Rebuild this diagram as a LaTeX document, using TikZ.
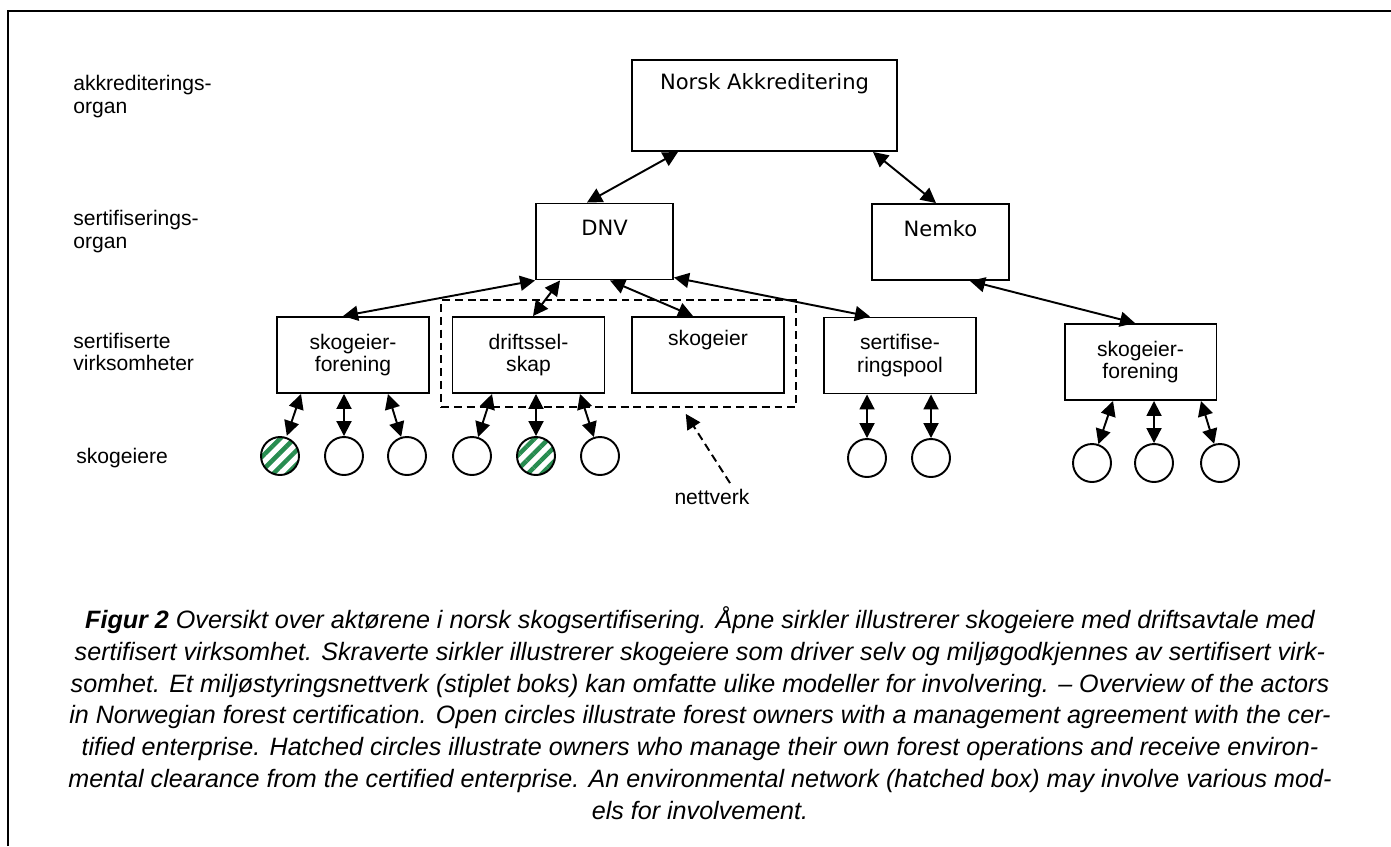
\documentclass[tikz,border=0pt]{standalone}
\usepackage{fontspec}
\setmainfont{Liberation Sans}
\newfontfamily\orgfont{DejaVu Sans}
\usetikzlibrary{arrows.meta,positioning,patterns.meta}
\definecolor{hatchgreen}{RGB}{40,140,80}

\tikzset{
  orgbox/.style={draw, line width=1.1pt, minimum width=3.04cm, minimum height=1.52cm, align=center, inner sep=0pt},
  topbox/.style={orgbox, minimum width=2.74cm},
  orgname/.style={font=\orgfont\fontsize{12}{13}\selectfont},
  owner/.style={circle, draw, line width=1.1pt, minimum size=0.76cm, inner sep=0pt},
  hatched/.style={owner, pattern={Lines[angle=45,distance=0.2cm,line width=0.09cm]}, pattern color=hatchgreen},
  link/.style={line width=1.1pt, {Triangle[length=0.3cm,width=0.3cm]}-{Triangle[length=0.3cm,width=0.3cm]}},
  level/.style={anchor=west, inner sep=0pt, align=left}
}

\begin{document}
\begin{tikzpicture}[x=0.02cm, y=-0.02cm, font=\fontsize{12}{13}\selectfont]
          \useasboundingbox (0,0) rectangle (1391,846);
          \draw[line width=1.6pt] (8,846) -- (8,11) -- (1391,11);

          % levels at the left
          \node[level] (lakk) at (73,96.5) {akkrediterings-\\organ};
          \node[level] (lsert) at (73,231.5) {sertifiserings-\\organ};
          \node[level] (lvirk) at (73,352) {sertifiserte\\virksomheter};
          \node[level] (leier) at (76,458) {skogeiere};

          % organs
          \node[orgbox, minimum width=5.3cm, minimum height=1.82cm] (na) at (764.5,105.5) {};
          \node[orgname] at ([yshift=-0.5cm]na.north) {Norsk Akkreditering};
          \node[topbox] (dnv) at (604.5,241.5) {};
          \node[orgname] at ([yshift=-0.5cm]dnv.north) {DNV};
          \node[topbox] (nemko) at (940.5,242) {};
          \node[orgname] at ([yshift=-0.52cm]nemko.north) {Nemko};

          % certified enterprises
          \node[orgbox] (sf1) at (353,355) {skogeier-\\forening};
          \node[orgbox] (drift) at (528.5,355) {driftssel-\\skap};
          \node[orgbox] (skog) at (708,355) {};
          \node at ([yshift=-0.48cm]skog.north) {skogeier};
          \node[orgbox] (pool) at (900,355.5) {sertifise-\\ringspool};
          \node[orgbox] (sf2) at (1140.5,362) {skogeier-\\forening};

          \node[draw, line width=1.1pt, dash pattern=on 4.5pt off 2.8pt, minimum width=7.1cm, minimum height=2.14cm] (net) at (618.5,353.5) {};% network
          \node (nett) at (712,497) {nettverk};

          % owners
          \node[hatched] (c1) at (280,456) {};
          \node[owner] (c2) at (344,456) {};
          \node[owner] (c3) at (407,456) {};
          \node[owner] (c4) at (472,456) {};
          \node[hatched] (c5) at (536,456) {};
          \node[owner] (c6) at (600,456) {};
          \node[owner] (c7) at (867,458) {};
          \node[owner] (c8) at (931,458) {};
          \node[owner] (c9) at (1092,463) {};
          \node[owner] (c10) at (1154,463) {};
          \node[owner] (c11) at (1220,463) {};

          \draw[link] ([xshift=-1.73cm]na.south) -- ([xshift=-0.35cm]dnv.north);
          \draw[link] ([xshift=2.17cm]na.south) -- ([xshift=-0.09cm]nemko.north);
          \draw[link] (dnv.south west) -- ([xshift=-0.2cm]sf1.north);
          \draw[link] ([xshift=-0.89cm]dnv.south) -- ([xshift=0.09cm]drift.north);
          \draw[link] ([xshift=0.11cm]dnv.south) -- ([xshift=-0.3cm]skog.north);
          \draw[link] ([yshift=0.06cm]dnv.south east) -- ([xshift=-0.6cm]pool.north);
          \draw[link] ([xshift=0.59cm]nemko.south) -- ([xshift=-0.11cm]sf2.north);

          \draw[link] ([xshift=-1.04cm]sf1.south) -- (c1);
          \draw[link] ([xshift=-0.18cm]sf1.south) -- (c2);
          \draw[link] ([xshift=0.7cm]sf1.south) -- (c3);
          \draw[link] ([xshift=-0.73cm]drift.south) -- (c4);
          \draw[link] ([xshift=0.15cm]drift.south) -- (c5);
          \draw[link] ([xshift=1.03cm]drift.south) -- (c6);
          \draw[link] ([xshift=-0.66cm]pool.south) -- (c7);
          \draw[link] ([xshift=0.62cm]pool.south) -- (c8);
          \draw[link] ([xshift=-0.55cm]sf2.south) -- (c9);
          \draw[link] ([xshift=0.27cm]sf2.south) -- (c10);
          \draw[link] ([xshift=1.21cm]sf2.south) -- (c11);

          \draw[line width=1.1pt, dash pattern=on 4.5pt off 2.8pt, -{Triangle[length=0.3cm,width=0.3cm]}, shorten >=0.14cm]
            ([xshift=0.36cm]nett.north) -- ([xshift=1.27cm]net.south);

          % caption
          \node[align=center, font=\fontsize{14.3}{18.1}\selectfont\itshape] (cap) at (700,713)
            {\textbf{Figur 2} Oversikt over aktørene i norsk skogsertifisering. Åpne sirkler illustrerer skogeiere med driftsavtale med\\
             sertifisert virksomhet. Skraverte sirkler illustrerer skogeiere som driver selv og miljøgodkjennes av sertifisert virk-\\
             somhet. Et miljøstyringsnettverk (stiplet boks) kan omfatte ulike modeller for involvering. – Overview of the actors\\
             in Norwegian forest certification. Open circles illustrate forest owners with a management agreement with the cer-\\
             tified enterprise. Hatched circles illustrate owners who manage their own forest operations and receive environ-\\
             mental clearance from the certified enterprise. An environmental network (hatched box) may involve various mod-\\
             els for involvement.};
\end{tikzpicture}
\end{document}
